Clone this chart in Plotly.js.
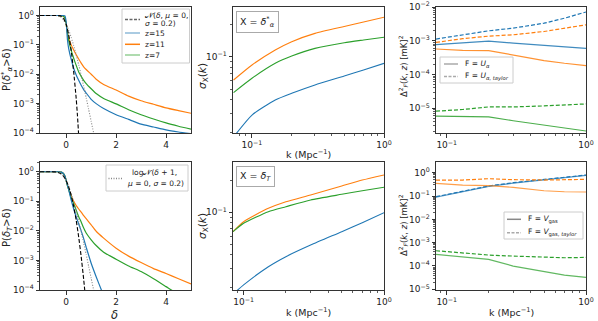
<!DOCTYPE html>
<html><head><meta charset="utf-8">
<script src="https://cdn.plot.ly/plotly-3.0.1.min.js"></script>
<style>html,body{margin:0;padding:0;background:#fff}#chart{width:598px;height:321px}</style>
</head><body><div id="chart"></div>
<script>
// ---------------- DATA ----------------
// Left column: cumulative probabilities P(X > delta)
const deltaGrid = [-1.05, -0.3, -0.2, -0.1, -0.05, 0, 0.05, 0.1, 0.2, 0.3, 0.4, 0.5, 0.6, 0.7, 0.8, 1.0, 1.2, 1.5, 2.0, 2.5, 3.0, 3.5, 4.0, 4.5, 5.0];
const pAlphaZ15 = [1, 1, 1, 1, 0.97, 0.6, 0.15, 0.075, 0.032, 0.016, 0.0095, 0.0062, 0.0042, 0.003, 0.0023, 0.0014, 0.001, 0.00068, 0.00042, 0.00029, 0.0002, 0.00016, 0.000127, 0.000108, 0.000095];
const pAlphaZ11 = [1, 1, 0.99, 0.93, 0.8, 0.5, 0.26, 0.17, 0.1, 0.067, 0.046, 0.033, 0.024, 0.018, 0.0145, 0.01, 0.0068, 0.0045, 0.0029, 0.0018, 0.00125, 0.00095, 0.00072, 0.00058, 0.00047];
const pAlphaZ7 = [1, 1, 0.99, 0.93, 0.8, 0.5, 0.25, 0.14, 0.065, 0.035, 0.02, 0.012, 0.0085, 0.0062, 0.0048, 0.0032, 0.0022, 0.0015, 0.00098, 0.00062, 0.00042, 0.0003, 0.00022, 0.00017, 0.000135];
const deltaGaussAlpha = [-1.05, -0.4, -0.3, -0.2, -0.1, 0, 0.1, 0.2, 0.3, 0.4, 0.45, 0.5];
const pGaussAlpha = [1, 0.999, 0.99, 0.94, 0.78, 0.5, 0.22, 0.065, 0.012, 0.0015, 0.0004, 0.00008];

const pTZ11 = [1, 1, 0.97, 0.85, 0.7, 0.5, 0.35, 0.26, 0.15, 0.1, 0.072, 0.055, 0.043, 0.033, 0.026, 0.016, 0.0097, 0.0057, 0.0026, 0.0014, 0.00085, 0.00053, 0.00036, 0.00024, 0.00016];
const pTZ7 = [1, 1, 0.97, 0.85, 0.7, 0.5, 0.34, 0.25, 0.13, 0.085, 0.05, 0.03, 0.02, 0.0125, 0.0085, 0.005, 0.0032, 0.0019, 0.0011, 0.00065, 0.00042, 0.00024, 0.00013, 0.00007, 0.00003];
const deltaTZ15 = [-1.05, -0.3, -0.2, -0.1, -0.05, 0, 0.05, 0.1, 0.2, 0.3, 0.4, 0.5, 0.6, 0.7, 0.8, 0.9, 1.0, 1.2, 1.41, 1.6];
const pTZ15 = [1, 1, 0.97, 0.85, 0.7, 0.5, 0.35, 0.25, 0.11, 0.055, 0.03, 0.017, 0.01, 0.0055, 0.0028, 0.0015, 0.0008, 0.00028, 0.0001, 0.00004];
const deltaGaussT = [-1.05, -0.6, -0.5, -0.4, -0.3, -0.2, -0.1, 0, 0.1, 0.2, 0.3, 0.4, 0.5, 0.6, 0.7, 0.76];
const pGaussT = [1, 0.999, 0.994, 0.977, 0.933, 0.841, 0.691, 0.5, 0.309, 0.159, 0.0668, 0.0228, 0.0062, 0.00135, 0.00023, 0.00007];
const deltaLogN = [-1.05, -0.5, -0.4, -0.3, -0.2, -0.1, 0, 0.1, 0.2, 0.3, 0.4, 0.5, 0.6, 0.7, 0.8, 0.9, 1.0, 1.1, 1.2];
const pLogN = [1, 0.9997, 0.995, 0.962, 0.868, 0.701, 0.5, 0.317, 0.181, 0.095, 0.046, 0.021, 0.0093, 0.0039, 0.0016, 0.00063, 0.00025, 0.0001, 0.00004];

// Middle column: sigma_X(k)
const kAlpha = [0.0725, 0.1, 0.15, 0.2, 0.3, 0.5, 0.7, 1.0];
const sigAlphaZ15 = [0.0182, 0.029, 0.0399, 0.046, 0.0549, 0.0664, 0.0755, 0.0869];
const sigAlphaZ11 = [0.061, 0.0839, 0.1153, 0.1375, 0.164, 0.19, 0.209, 0.231];
const sigAlphaZ7 = [0.0467, 0.0633, 0.0869, 0.1014, 0.1193, 0.1345, 0.1425, 0.151];
const kT = [0.084, 0.1, 0.15, 0.2, 0.3, 0.5, 0.7, 1.0];
const sigTZ15 = [0.0172, 0.021, 0.031, 0.0385, 0.0494, 0.0659, 0.08, 0.099];
const sigTZ11 = [0.0659, 0.0817, 0.1089, 0.1256, 0.1452, 0.176, 0.2, 0.2233];
const sigTZ7 = [0.0659, 0.0789, 0.1014, 0.1128, 0.1303, 0.1472, 0.159, 0.1714];

// Right column: Delta^2_F(k, z) [mK]^2
const kF = [0.0837, 0.13, 0.2, 0.3, 0.5, 0.7, 1.0];
const uZ15 = [7.62e-4, 8.53e-4, 9.77e-4, 8.53e-4, 7.29e-4, 6.52e-4, 5.96e-4];
const uTaylorZ15 = [1.12e-3, 1.47e-3, 1.97e-3, 2.36e-3, 3.31e-3, 4.65e-3, 7.13e-3];
const uZ11 = [5.69e-4, 5.2e-4, 5.08e-4, 3.78e-4, 2.58e-4, 2.15e-4, 1.84e-4];
const uTaylorZ11 = [8.93e-4, 1.15e-3, 1.37e-3, 1.5e-3, 1.88e-3, 2.36e-3, 2.96e-3];
const uZ7 = [5.82e-6, 5.69e-6, 5.56e-6, 4.24e-6, 3.16e-6, 2.52e-6, 2.11e-6];
const uTaylorZ7 = [8.17e-6, 9.14e-6, 1.09e-5, 1.09e-5, 1.17e-5, 1.22e-5, 1.34e-5];
const vZ15 = [0.089, 0.157, 0.258, 0.358, 0.5, 0.61, 0.77];
const vTaylorZ15 = [0.0935, 0.164, 0.269, 0.373, 0.519, 0.632, 0.796];
const vZ11 = [0.35, 0.296, 0.277, 0.236, 0.169, 0.153, 0.149];
const vTaylorZ11 = [0.486, 0.486, 0.555, 0.502, 0.486, 0.502, 0.519];
const vZ7 = [3.13e-4, 2.49e-4, 1.91e-4, 9.9e-5, 5.66e-5, 4.07e-5, 3.24e-5];
const vTaylorZ7 = [4.51e-4, 3.70e-4, 2.94e-4, 2.66e-4, 2.33e-4, 2.25e-4, 2.33e-4];

const zLabels = ['z=15', 'z=11', 'z=7'];
const C = {b:'#1f77b4', o:'#ff7f0e', g:'#2ca02c'};

// ---------------- LAYOUT HELPERS ----------------
const W = 598, H = 321;
const X = v => v / W, Y = v => 1 - v / H;
const FONT = 'DejaVu Sans, sans-serif';
const dom = {
  1: {x:[40,191], y:[7,133]}, 2: {x:[233,384], y:[7,133]}, 3: {x:[436,586], y:[7,133]},
  4: {x:[40,191], y:[162,290]}, 5: {x:[233,384], y:[162,290]}, 6: {x:[436,586], y:[162,290]}
};
const base = {showline:true, mirror:true, linecolor:'#333', linewidth:1, ticks:'outside', ticklen:3.5,
  tickwidth:1, tickcolor:'#333', showgrid:false, zeroline:false,
  tickfont:{family:FONT, size:9, color:'#222'}};
const sup = n => '10<sup>' + (n < 0 ? '\u2212' + (-n) : n) + '</sup>';
function decTicks(lo, hi){ const v=[], t=[]; for(let e=lo;e<=hi;e++){v.push(Math.pow(10,e)); t.push(sup(e));} return {tickmode:'array', tickvals:v, ticktext:t}; }
function minorVals(lo, hi){ const v=[]; for(let e=lo;e<=hi;e++) for(let m=2;m<=9;m++) v.push(m*Math.pow(10,e)); return v; }
const minor = (lo,hi) => ({ticks:'outside', ticklen:2, tickwidth:0.8, tickcolor:'#333', tickmode:'array', tickvals:minorVals(lo,hi), showgrid:false});

const layout = {width:W, height:H, margin:{l:0,r:0,t:0,b:0}, showlegend:false,
  paper_bgcolor:'#fff', plot_bgcolor:'#fff', font:{family:FONT, color:'#222'}, annotations:[], shapes:[]};

function setAxes(i, xa, ya){
  const s = i === 1 ? '' : String(i);
  layout['xaxis'+s] = Object.assign({}, base, {domain:[X(dom[i].x[0]), X(dom[i].x[1])], anchor:'y'+s}, xa);
  layout['yaxis'+s] = Object.assign({}, base, {domain:[Y(dom[i].y[1]), Y(dom[i].y[0])], anchor:'x'+s}, ya);
}
const linX = {type:'linear', range:[-1.05, 5], tickmode:'array', tickvals:[0,2,4], ticktext:['0','2','4']};
setAxes(1, linX, Object.assign({type:'log', range:[-4, 0.29]}, decTicks(-4,0), {minor:minor(-5,0)}));
setAxes(4, linX, Object.assign({type:'log', range:[-4, 0.33]}, decTicks(-4,0), {minor:minor(-5,0)}));
setAxes(2, Object.assign({type:'log', range:[Math.log10(0.0718), 0]}, decTicks(-1,0), {minor:minor(-2,-1)}),
           Object.assign({type:'log', range:[-1.703, -0.542]}, decTicks(-1,-1), {minor:minor(-2,-1)}));
setAxes(5, Object.assign({type:'log', range:[Math.log10(0.084), 0]}, decTicks(-1,0), {minor:minor(-2,-1)}),
           Object.assign({type:'log', range:[-1.726, -0.53]}, decTicks(-1,-1), {minor:minor(-2,-1)}));
setAxes(3, Object.assign({type:'log', range:[Math.log10(0.0837), 0]}, decTicks(-1,0), {minor:minor(-2,-1)}),
           Object.assign({type:'log', range:[-5.735, -2]}, decTicks(-5,-2), {minor:minor(-6,-3)}));
setAxes(6, Object.assign({type:'log', range:[Math.log10(0.0837), 0]}, decTicks(-1,0), {minor:minor(-2,-1)}),
           Object.assign({type:'log', range:[-5.03, 0.46]}, decTicks(-5,0), {minor:minor(-6,-1)}));

// ---------------- TRACES ----------------
const traces = [];
function line(i, x, y, color, dash, name, width, extra, shape){
  const s = i === 1 ? '' : String(i);
  const ln = {color:color, width:width||1.2, dash:dash||'solid'};
  if (shape) { ln.shape = 'spline'; ln.smoothing = shape; }
  traces.push(Object.assign({type:'scatter', mode:'lines', x:x, y:y, name:name, xaxis:'x'+s, yaxis:'y'+s,
    line:ln, hoverinfo:'skip'}, extra||{}));
}
const DASH = '4px,2px', DOT = '1px,1.6px';
// top-left
line(1, deltaGrid, pAlphaZ11, C.o, null, zLabels[1], 1.2, null, 0.5);
line(1, deltaGrid, pAlphaZ7, C.g, null, zLabels[2], 1.2, null, 0.5);
line(1, deltaGrid, pAlphaZ15, C.b, null, zLabels[0], 1.2, null, 0.4);
line(1, deltaLogN, pLogN, '#888', DOT, 'logN', 1.1, null, 0.5);
line(1, deltaGaussAlpha, pGaussAlpha, '#000', DASH, 'N', 1.1, null, 0.5);
// bottom-left
line(4, deltaGrid, pTZ11, C.o, null, zLabels[1], 1.2, null, 0.5);
line(4, deltaGrid, pTZ7, C.g, null, zLabels[2], 1.2, null, 0.5);
line(4, deltaTZ15, pTZ15, C.b, null, zLabels[0], 1.2, null, 0.5);
line(4, deltaLogN, pLogN, '#888', DOT, 'logN', 1.1, null, 0.5);
line(4, deltaGaussT, pGaussT, '#000', DASH, 'N', 1.1, null, 0.5);
// middle
[[sigAlphaZ15,C.b],[sigAlphaZ11,C.o],[sigAlphaZ7,C.g]].forEach((d,j)=>line(2, kAlpha, d[0], d[1], null, zLabels[j], 1.1, null, 0.6));
[[sigTZ15,C.b],[sigTZ11,C.o],[sigTZ7,C.g]].forEach((d,j)=>line(5, kT, d[0], d[1], null, zLabels[j], 1.1, null, 0.6));
// right
[[uZ15,uTaylorZ15,C.b],[uZ11,uTaylorZ11,C.o],[uZ7,uTaylorZ7,C.g]].forEach((d,j)=>{
  line(3, kF, d[0], d[2], null, zLabels[j]+' U', 1.2, {opacity:0.85});
  line(3, kF, d[1], d[2], DASH, zLabels[j]+' U taylor', 1.2);
});
[[vZ15,vTaylorZ15,C.b],[vZ11,vTaylorZ11,C.o],[vZ7,vTaylorZ7,C.g]].forEach((d,j)=>{
  line(6, kF, d[0], d[2], null, zLabels[j]+' V', 1.2, {opacity:0.75});
  line(6, kF, d[1], d[2], DASH, zLabels[j]+' V taylor', 1.2);
});

// ---------------- TEXT / LEGENDS ----------------
function ann(x, y, text, o){ layout.annotations.push(Object.assign({xref:'paper', yref:'paper', x:X(x), y:Y(y), text:text, showarrow:false,
  xanchor:'center', yanchor:'middle', font:{family:FONT, size:10, color:'#222'}}, o||{})); }
function box(x0,x1,y0,y1){ layout.shapes.push({type:'rect', xref:'paper', yref:'paper', x0:X(x0), x1:X(x1), y0:Y(y1), y1:Y(y0),
  line:{color:'#cccccc', width:1}, fillcolor:'rgba(255,255,255,0.85)', layer:'above'}); }
function seg(x0,x1,y,color,dash,op){ layout.shapes.push({type:'line', xref:'paper', yref:'paper', x0:X(x0), x1:X(x1), y0:Y(y), y1:Y(y),
  line:{color:color, width:1.5, dash:dash||'solid'}, opacity:op||1, layer:'above'}); }
const lf = {font:{family:FONT, size:7.5, color:'#222'}, xanchor:'left'};
const f = s => ({family:FONT, size:s, color:'#222'});

// axis titles
ann(7, 70, 'P(<i>δ</i><sup>*</sup><sub><i>α</i></sub>>δ)', {textangle:-90, font:f(10)});
ann(7, 228, 'P(<i>δ<sub>T</sub></i>>δ)', {textangle:-90, font:f(10)});
ann(203, 76, '<i>σ</i><sub>X</sub>(<i>k</i>)', {textangle:-90, font:f(10.5)});
ann(203, 226, '<i>σ</i><sub>X</sub>(<i>k</i>)', {textangle:-90, font:f(10.5)});
ann(403, 66, 'Δ<sup>2</sup><sub><i>F</i></sub>(<i>k</i>, <i>z</i>) [mK]<sup>2</sup>', {textangle:-90, font:f(8.5)});
ann(403, 225, 'Δ<sup>2</sup><sub><i>F</i></sub>(<i>k</i>, <i>z</i>) [mK]<sup>2</sup>', {textangle:-90, font:f(8.5)});
ann(308.5, 154, 'k (Mpc<sup>\u22121</sup>)', {font:f(9.5)});
ann(308, 312, 'k (Mpc<sup>\u22121</sup>)', {font:f(9.5)});
ann(511, 312, 'k (Mpc<sup>\u22121</sup>)', {font:f(9.5)});
ann(114, 314.5, '<i>δ</i>', {font:f(11.5)});

// boxed labels in middle panels
ann(257.5, 22.5, 'X = <i>δ</i><sup>*</sup><sub><i>α</i></sub>', {font:f(9.5), bordercolor:'#aaaaaa', borderwidth:1, borderpad:3, bgcolor:'#fff'});
ann(255, 176.5, 'X = <i>δ<sub>T</sub></i>', {font:f(9.5), bordercolor:'#aaaaaa', borderwidth:1, borderpad:3, bgcolor:'#fff'});

// top-left legend
box(122, 189.5, 9, 63);
seg(125, 140, 19.5, '#666', '3px,1.5px');
ann(143, 15.2, '𝒩(<i>δ</i>, <i>μ</i> = 0,', lf);
ann(143, 23.8, '<i>σ</i> = 0.2)', lf);
seg(125, 140, 33, C.b, null, 0.5); ann(143, 33, zLabels[0], lf);
seg(125, 140, 44.3, C.o, null, 1); ann(143, 44.3, zLabels[1], lf);
seg(125, 140, 55, C.g, null, 0.5); ann(143, 55, zLabels[2], lf);
// bottom-left legend
box(106, 188, 165, 191);
seg(108.5, 123, 178.5, '#888', '1px,1.5px');
ann(154, 173, 'log𝒩(<i>δ</i> + 1,', Object.assign({}, lf, {xanchor:'center'}));
ann(155, 184, '<i>μ</i> = 0, <i>σ</i> = 0.2)', Object.assign({}, lf, {xanchor:'center'}));
// top-right legend
box(440, 513, 57, 83);
seg(444, 458, 64, '#aaaaaa'); ann(463, 64, 'F = <i>U<sub>α</sub></i>', lf);
seg(444, 458, 76.5, '#aaaaaa', '3px,1.5px'); ann(463, 76.5, 'F = <i>U</i><sub><i>α</i>, <i>taylor</i></sub>', lf);
// bottom-right legend
box(504, 583, 212, 239);
seg(507, 521, 219.3, '#888'); ann(526, 219.3, 'F = <i>V</i><sub>gas</sub>', lf);
seg(507, 521, 232.7, '#aaaaaa', '3px,1.5px'); ann(526, 232.7, 'F = <i>V</i><sub>gas, <i>taylor</i></sub>', lf);

Plotly.newPlot('chart', traces, layout, {staticPlot:true, displayModeBar:false});
</script></body></html>
